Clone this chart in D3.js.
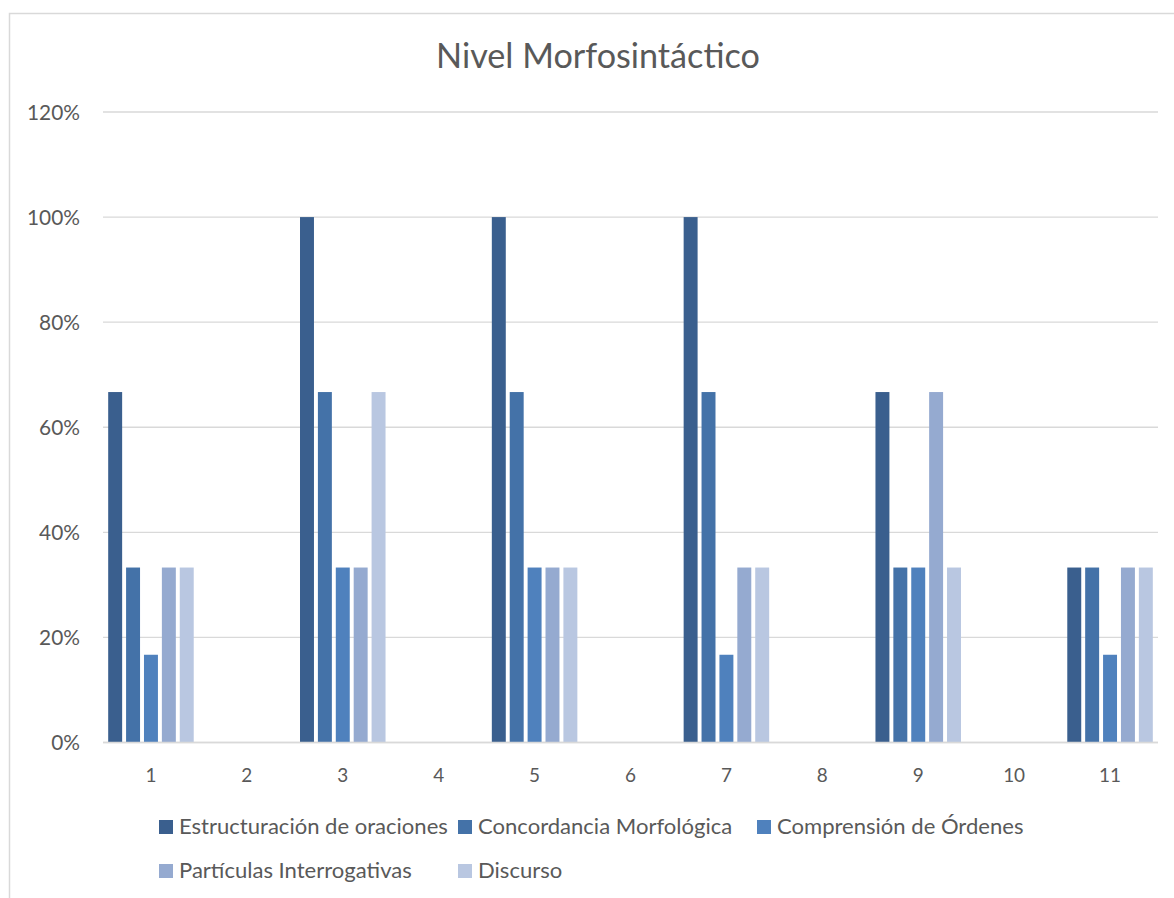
<!DOCTYPE html>
<html><head><meta charset="utf-8">
<script src="https://cdn.jsdelivr.net/npm/d3@7"></script>
<style>html,body{margin:0;padding:0;background:#fff;}svg{display:block;}</style>
</head><body>
<svg id="chart" width="1174" height="898"></svg>
<script>
const title = "Nivel Morfosintáctico";
const categories = ["1","2","3","4","5","6","7","8","9","10","11"];
const seriesNames = ["Estructuración de oraciones","Concordancia Morfológica","Comprensión de Órdenes","Partículas Interrogativas","Discurso"];
const estructuracion = [0.667,0,1,0,1,0,1,0,0.667,0,0.333];
const concordancia   = [0.333,0,0.667,0,0.667,0,0.667,0,0.333,0,0.333];
const comprension    = [0.167,0,0.333,0,0.333,0,0.167,0,0.333,0,0.167];
const particulas     = [0.333,0,0.333,0,0.333,0,0.333,0,0.667,0,0.333];
const discurso       = [0.333,0,0.667,0,0.333,0,0.333,0,0.333,0,0.333];
const yTicks = [0,0.2,0.4,0.6,0.8,1.0,1.2];
const colors = ["#3A5F8E","#4472A8","#4F81BD","#95AAD0","#B9C7E1"];

const seriesValues = [estructuracion, concordancia, comprension, particulas, discurso];
const svg = d3.select("#chart");
const FONT = "Lato, 'Open Sans', sans-serif";
const textColor = "#595959";

// frame
svg.append("path").attr("d","M9.5,898 L9.5,13.5 L1174,13.5")
  .attr("fill","none").attr("stroke","#d9d9d9").attr("stroke-width",1.5);

const plotLeft = 103, plotRight = 1158, plotTop = 112, plotBottom = 742.5;
const x0 = d3.scaleBand().domain(categories).range([plotLeft, plotRight]).padding(0);
const x1 = d3.scaleBand().domain(seriesNames).range([0, x0.bandwidth()]).paddingInner(0.22).paddingOuter(0.29);
const y = d3.scaleLinear().domain([0,1.2]).range([plotBottom, plotTop]);

// gridlines
svg.append("g").selectAll("line").data(yTicks).join("line")
  .attr("x1",plotLeft).attr("x2",plotRight)
  .attr("y1",d=>y(d)).attr("y2",d=>y(d))
  .attr("stroke","#d9d9d9").attr("stroke-width",1.3);

// bars
const groups = svg.append("g").selectAll("g").data(categories).join("g")
  .attr("transform",d=>`translate(${x0(d)},0)`);
groups.selectAll("rect").data((c,i)=>seriesNames.map((s,j)=>({s, j, v: seriesValues[j][i]})))
  .join("rect")
  .attr("x",d=>x1(d.s)).attr("width",x1.bandwidth())
  .attr("y",d=>y(d.v)).attr("height",d=>y(0)-y(d.v))
  .attr("fill",d=>colors[d.j]);

// axis line on top
svg.append("line").attr("x1",plotLeft).attr("x2",plotRight).attr("y1",y(0)).attr("y2",y(0))
  .attr("stroke","#d9d9d9").attr("stroke-width",1.3);

// y labels
const fmt = d3.format(".0%");
const yl = svg.append("g").selectAll("text").data(yTicks).join("text")
  .attr("x",80).attr("y",d=>y(d)+7.5)
  .attr("text-anchor","end").attr("font-family",FONT).attr("font-size",19)
  .attr("fill",textColor).text(d=>fmt(d));
const yw = yl.nodes()[6].getComputedTextLength();
yl.attr("font-size", 19*53/yw);

// x labels
const xl = svg.append("g").selectAll("text").data(categories).join("text")
  .attr("x",d=>x0(d)+x0.bandwidth()/2).attr("y",781.5)
  .attr("text-anchor","middle").attr("font-family",FONT).attr("font-size",19)
  .attr("fill",textColor).text(d=>d);
const xw = xl.nodes()[9].getComputedTextLength();
xl.attr("font-size", 19*22/xw);

// title
const t = svg.append("text").attr("x",598).attr("y",68).attr("text-anchor","middle")
  .attr("font-family",FONT).attr("font-size",32).attr("fill",textColor).text(title);
const tw = t.node().getComputedTextLength();
t.attr("font-size", 32*324/tw);

// legend
const legCols = [159, 458, 757];
const legRows = [827, 871];
const leg = svg.append("g");
const items = leg.selectAll("g").data(seriesNames).join("g")
  .attr("transform",(d,i)=>`translate(${legCols[i%3]},${legRows[Math.floor(i/3)]})`);
items.append("rect").attr("x",0).attr("y",-7).attr("width",14).attr("height",14)
  .attr("fill",(d,i)=>colors[i]);
const lt = items.append("text").attr("x",20).attr("y",7)
  .attr("font-family",FONT).attr("font-size",19).attr("fill",textColor).text(d=>d);
const w0 = lt.nodes()[0].getComputedTextLength();
const fs = 19*269/w0;
lt.attr("font-size",fs);
</script>
</body></html>
